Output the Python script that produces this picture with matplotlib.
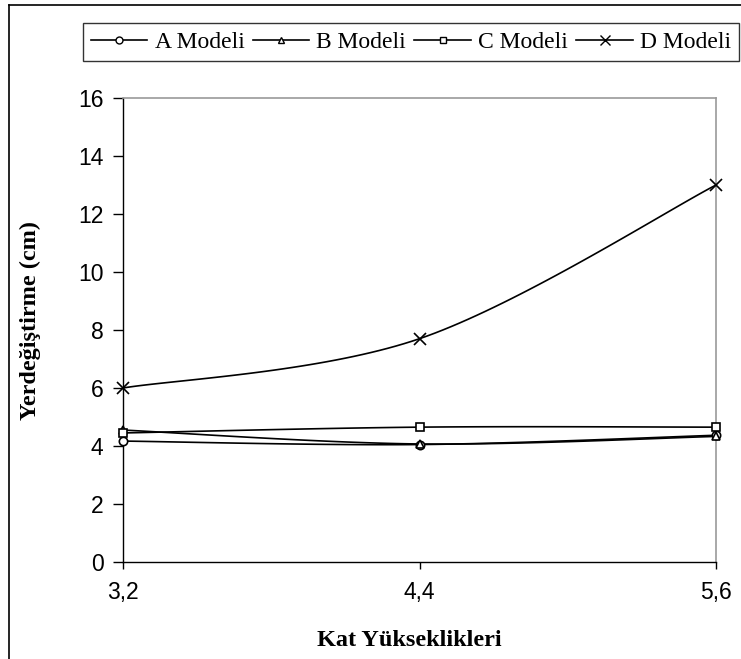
"""
Kat yüksekliğine göre yerdeğiştirme grafiği (Excel tarzı, yumuşatılmış çizgiler).
"""

import matplotlib

matplotlib.use("Agg")
import matplotlib.pyplot as plt
import numpy as np
from matplotlib.lines import Line2D

KAT_YUKSEKLIK = [3.2, 4.4, 5.6]
X_LABELS = ["3,2", "4,4", "5,6"]

A_MODELI = [4.17, 4.05, 4.37]
B_MODELI = [4.55, 4.07, 4.33]
C_MODELI = [4.45, 4.65, 4.65]
D_MODELI = [6.0, 7.7, 13.0]

SERIES = [
    ("A Modeli", A_MODELI, "o"),
    ("B Modeli", B_MODELI, "^"),
    ("C Modeli", C_MODELI, "s"),
    ("D Modeli", D_MODELI, "x"),
]

SERIF = ["Liberation Serif", "DejaVu Serif"]
SANS = ["Liberation Sans", "DejaVu Sans"]


def smooth(xs, ys, n=40):
    """Excel-like smoothed line: Catmull-Rom as cubic Bezier segments."""
    xs = np.asarray(xs, dtype=float)
    ys = np.asarray(ys, dtype=float)
    px = np.concatenate([[xs[0]], xs, [xs[-1]]])
    py = np.concatenate([[ys[0]], ys, [ys[-1]]])
    out_x, out_y = [], []
    t = np.linspace(0, 1, n)
    for i in range(1, len(px) - 2):
        p0 = np.array([px[i], py[i]])
        p3 = np.array([px[i + 1], py[i + 1]])
        p1 = p0 + (np.array([px[i + 1], py[i + 1]]) - np.array([px[i - 1], py[i - 1]])) / 6
        p2 = p3 - (np.array([px[i + 2], py[i + 2]]) - np.array([px[i], py[i]])) / 6
        b = ((1 - t) ** 3)[:, None] * p0 + (3 * (1 - t) ** 2 * t)[:, None] * p1 \
            + (3 * (1 - t) * t ** 2)[:, None] * p2 + (t ** 3)[:, None] * p3
        out_x.extend(b[:, 0])
        out_y.extend(b[:, 1])
    return out_x, out_y


fig = plt.figure(figsize=(7.41, 6.59), dpi=100)
ax = fig.add_axes([123 / 741, 1 - 562 / 659, (716 - 123) / 741, (562 - 98) / 659])

handles = []
for name, vals, m in SERIES:
    sx, sy = smooth(KAT_YUKSEKLIK, vals)
    ax.plot(sx, sy, color="black", linewidth=1.2, zorder=3, clip_on=False)
    ax.plot(KAT_YUKSEKLIK, vals, linestyle="none", marker=m, color="black",
            markerfacecolor="white" if m != "x" else "black", markersize=8 if m == "x" else 6,
            markeredgewidth=1.2, zorder=4, clip_on=False)
    handles.append(Line2D([], [], color="black", linewidth=1.2, marker=m,
                          markerfacecolor="white", markersize=7 if m == "x" else 5,
                          markeredgewidth=1.0))

ax.set_xlim(3.2, 5.6)
ax.set_ylim(0, 16)
ax.set_xticks(KAT_YUKSEKLIK)
ax.set_xticklabels(X_LABELS, fontsize=16.5, family=SANS)
ax.set_yticks(np.arange(0, 17, 2))
ax.set_yticklabels([str(v) for v in range(0, 17, 2)], fontsize=16.5, family=SANS)
ax.tick_params(axis="y", direction="out", length=7, width=1, pad=7)
ax.tick_params(axis="x", direction="out", length=5, width=1, pad=9)

for s in ("top", "right"):
    ax.spines[s].set_color("#999999")
    ax.spines[s].set_linewidth(1.2)
for s in ("left", "bottom"):
    ax.spines[s].set_color("black")
    ax.spines[s].set_linewidth(1.0)

fig.text(409 / 741, 1 - 640 / 659, "Kat Yükseklikleri", ha="center", va="center",
         fontsize=17.5, fontweight="bold", family=SERIF)
fig.text(30 / 741, 1 - 320 / 659, "Yerdeğiştirme (cm)", ha="center", va="center",
         rotation=90, fontsize=17.5, fontweight="bold", family=SERIF)

leg = fig.legend(handles, [s[0] for s in SERIES], ncol=4, loc="center",
                 bbox_to_anchor=(411 / 741, 1 - 42 / 659), frameon=True, fancybox=False,
                 edgecolor="black", prop={"family": SERIF, "size": 17},
                 handlelength=2.4, handletextpad=0.3, columnspacing=0.35,
                 borderpad=0.35, borderaxespad=0)
leg.get_frame().set_linewidth(1.0)

# outer chart frame (left and top visible)
fig.add_artist(Line2D([9 / 741, 9 / 741], [0, 1 - 5 / 659], color="black", linewidth=1.2,
                      transform=fig.transFigure))
fig.add_artist(Line2D([9 / 741, 1], [1 - 5 / 659, 1 - 5 / 659], color="black", linewidth=1.2,
                      transform=fig.transFigure))

fig.savefig("out.png", dpi=100)
